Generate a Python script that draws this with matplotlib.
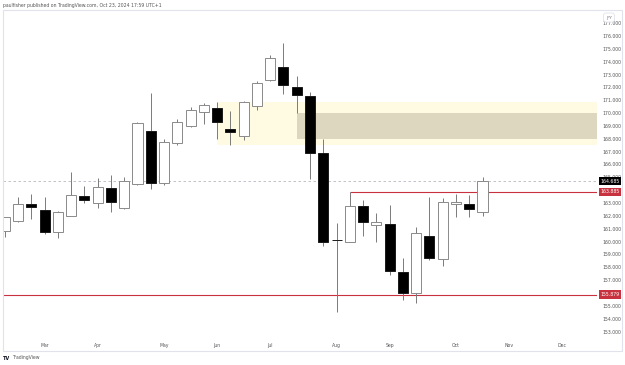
import matplotlib
matplotlib.use('Agg')
import matplotlib.pyplot as plt
import matplotlib.dates as mdates
import matplotlib.transforms as mtransforms
from matplotlib.patches import Rectangle
import pandas as pd

# weekly candles, JPY pair
weeks = pd.date_range('2024-02-12', periods=37, freq='7D')
opens = [160.82, 161.63, 162.93, 162.46, 160.77, 162.02, 163.53, 163.03, 164.15, 162.59,
         164.48, 168.61, 164.54, 167.65, 169.00, 170.11, 170.37, 168.74, 168.22, 170.55,
         172.58, 173.56, 172.05, 171.33, 166.92, 160.13, 159.99, 162.77, 161.32, 161.37,
         157.66, 155.98, 160.44, 158.65, 162.95, 162.93, 162.33]
highs = [161.95, 163.45, 163.68, 163.49, 162.38, 165.39, 164.35, 164.93, 165.18, 165.00,
         169.33, 171.59, 167.96, 169.52, 170.50, 170.81, 170.89, 170.16, 170.97, 172.50,
         174.52, 175.43, 172.91, 171.67, 167.96, 161.47, 163.88, 163.24, 162.20, 162.85,
         158.70, 161.11, 163.49, 163.37, 163.68, 163.63, 165.05]
lows = [160.36, 161.50, 161.74, 160.59, 160.26, 161.99, 162.98, 162.64, 162.28, 162.55,
        164.40, 164.07, 164.40, 167.52, 168.95, 169.15, 167.98, 167.52, 167.91, 170.24,
        172.52, 171.46, 169.98, 164.85, 159.68, 154.52, 159.99, 160.44, 159.99, 157.40,
        155.46, 155.25, 158.57, 158.13, 161.94, 161.89, 162.02]
closes = [161.91, 162.90, 162.69, 160.77, 162.28, 163.63, 163.24, 164.27, 163.11, 164.74,
          169.25, 164.54, 167.75, 169.28, 170.24, 170.63, 169.28, 168.49, 170.89, 172.37,
          174.26, 172.19, 171.41, 166.92, 159.95, 160.10, 162.77, 161.55, 161.53, 157.74,
          155.98, 160.65, 158.75, 163.11, 163.08, 162.51, 164.685]

last_price = 164.685
level_high = 163.885
level_low = 155.879
zone_outer = (167.52, 170.86)
zone_inner = (168.0, 170.0)
# 164 and 156 sit under the price boxes
price_ticks = [p for p in range(153, 178) if p not in (164, 156)]

red = '#c8323e'

fig = plt.figure(figsize=(6.25, 3.65), dpi=100)
ax = fig.add_axes([3/625, 25/365, 594/625, 330/365])

x = mdates.date2num(weeks)
x0 = x[0] - 0.95
x1 = x[0] + 312.4
ax.set_xlim(x0, x1)
ax.set_ylim(152.342, 178.023)

# zones
xs = x[16]
ax.add_patch(Rectangle((xs, zone_outer[0]), x1 - xs, zone_outer[1] - zone_outer[0],
                       facecolor='#fffbe3', edgecolor='none', zorder=0))
xs2 = x[22]
ax.add_patch(Rectangle((xs2, zone_inner[0]), x1 - xs2, zone_inner[1] - zone_inner[0],
                       facecolor='#ddd7c0', edgecolor='none', zorder=1))

# levels
ax.axhline(last_price, color='#b5b8c0', lw=0.6, ls=(0, (3, 3)), zorder=1)
ax.hlines(level_high, x[26], x1, color=red, lw=0.8, zorder=1)
ax.axhline(level_low, color=red, lw=0.8, zorder=1)

# candles
ax.vlines(x, lows, highs, color='#7a7a7a', lw=0.7, zorder=2)
bottoms = [min(o, c) for o, c in zip(opens, closes)]
heights = [max(abs(c - o), 0.04) for o, c in zip(opens, closes)]
faces = ['white' if c >= o else 'black' for o, c in zip(opens, closes)]
edges = ['#8a8a8a' if c >= o else '#1a1a1a' for o, c in zip(opens, closes)]
ax.bar(x, heights, bottom=bottoms, width=5.3, color=faces, edgecolor=edges, lw=0.7, zorder=3)

for s in ax.spines.values():
    s.set_visible(False)

# axes ticks
ax.yaxis.tick_right()
ax.set_yticks(price_ticks)
ax.set_yticklabels(['%.3f' % p for p in price_ticks])
ax.tick_params(axis='y', length=0, pad=4, labelsize=3.3, labelcolor='#555555')

months = pd.date_range('2024-03-01', '2024-12-31', freq='WOM-1MON')
ax.set_xticks(mdates.date2num(months))
ax.set_xticklabels([d.strftime('%b') for d in months])
ax.tick_params(axis='x', length=0, pad=2.5, labelsize=3.3, labelcolor='#555555')

# price labels
trans = mtransforms.blended_transform_factory(ax.transAxes, ax.transData)
for price, bg in [(last_price, 'black'), (level_high, red), (level_low, red)]:
    ax.text(1.0055, price, '%.3f' % price, transform=trans, fontsize=3.3, color='white',
            va='center', ha='left', zorder=10, clip_on=False,
            bbox=dict(boxstyle='square,pad=0.35', facecolor=bg, edgecolor='none'))

# frame
fig.patches.append(Rectangle((3/625, 14/365), 619/625, 341/365, transform=fig.transFigure,
                             fill=False, edgecolor='#e0e3eb', lw=0.8))
fig.text(609/625, 1 - 17.5/365, 'JPY', fontsize=3, color='#777777', ha='center', va='center',
         bbox=dict(boxstyle='round,pad=0.6', facecolor='white', edgecolor='#e0e3eb', lw=0.6))

fig.text(3/625, 1 - 5/365, 'paulfisher published on TradingView.com, Oct 23, 2024 17:59 UTC+1',
         fontsize=3.3, color='#555555', ha='left', va='center')
fig.text(3/625, 1 - 358/365, 'TV', fontsize=3.6, color='#131722', fontweight='bold',
         ha='left', va='center')
fig.text(12/625, 1 - 358/365, 'TradingView', fontsize=3.3, color='#555555',
         ha='left', va='center')

fig.savefig('out.png', dpi=100)
